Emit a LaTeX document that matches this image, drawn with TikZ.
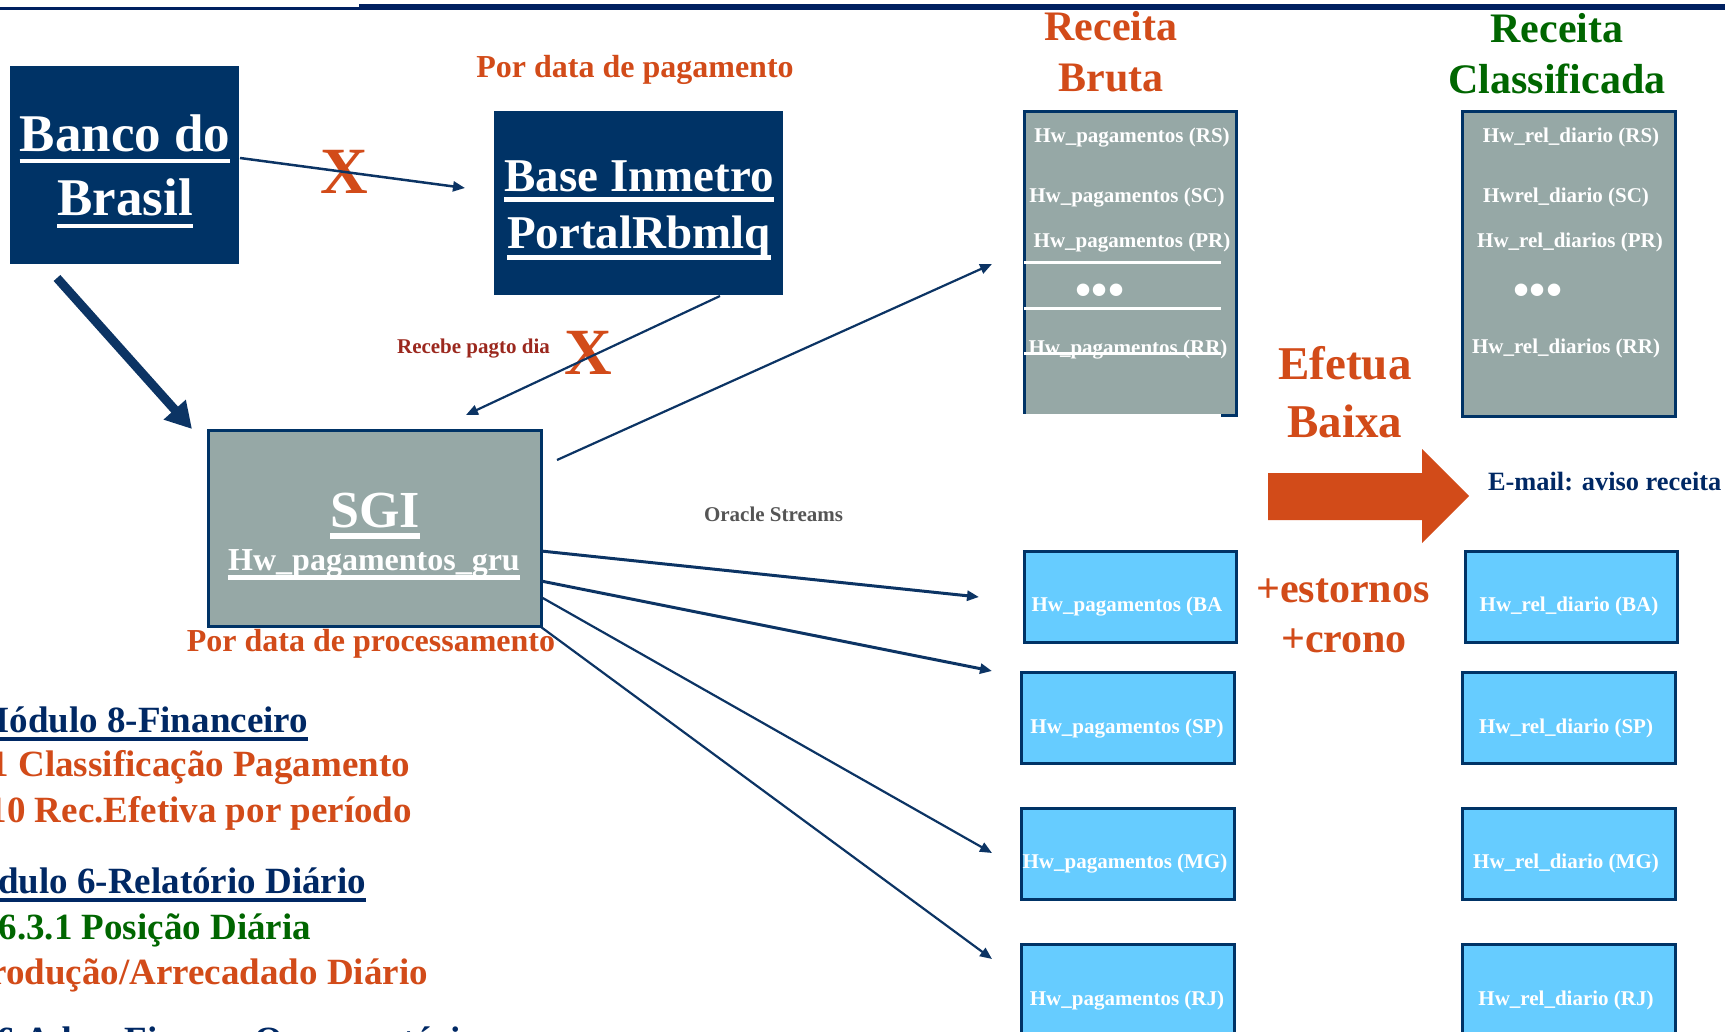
\documentclass[tikz,border=0pt]{standalone}
\usepackage{fontspec}
\setmainfont{Liberation Serif}
\usetikzlibrary{arrows.meta}
\definecolor{navyfill}{RGB}{0,51,102}
\definecolor{navyline}{RGB}{12,52,100}
\definecolor{topnavy}{RGB}{0,32,96}
\definecolor{orng}{RGB}{210,75,25}
\definecolor{grn}{RGB}{0,102,0}
\definecolor{grybox}{RGB}{150,168,166}
\definecolor{ltblue}{RGB}{102,204,255}
\definecolor{dkred}{RGB}{155,40,30}
\definecolor{grytxt}{RGB}{85,85,85}
\definecolor{navytxt}{RGB}{0,40,100}
\newcommand\myul[3]{\leavevmode\setbox0=\hbox{#1}\rlap{\rule[-#2]{\wd0}{#3}}\box0}
\newcommand\fsz[1]{\fontsize{#1}{#1}\selectfont}
\begin{document}
\begin{tikzpicture}[x=1pt,y=-1pt,
  every node/.style={inner sep=0pt,outer sep=0pt},
  darkbox/.style={draw=none,fill=navyfill},
  graybox/.style={draw=navyfill,line width=3pt,fill=grybox},
  bluebox/.style={draw=navyfill,line width=3pt,fill=ltblue},
  cell/.style={text=white,anchor=base,font=\bfseries\fsz{21}},
  dots/.style={text=white,anchor=center,font=\bfseries\fsz{46}},
  bigwhite/.style={text=white,anchor=base},
  conn/.style={draw=navyline,line width=2.2pt,-{Triangle[length=12pt,width=10pt]}},
  connb/.style={conn,line width=3pt},
  thickconn/.style={draw=navyline,line width=9pt,-{Triangle[length=26pt,width=28pt]}},
  lefttxt/.style={anchor=base east,font=\bfseries\fsz{37}},
  head/.style={anchor=base,font=\bfseries\fsz{42}},
  orngtxt/.style={text=orng,anchor=base,font=\bfseries\fsz{32}}
]
\useasboundingbox (0,0) rectangle (1725,1032);
% top rules
\draw[topnavy,line width=3pt] (0,8.2) -- (359,8.2);
\draw[topnavy,line width=5.7pt] (359,6.8) -- (1725,6.8);

% Banco do Brasil
\node[darkbox,minimum width=229pt,minimum height=198pt] (banco) at (124.5,165) {};
\node[bigwhite,font=\bfseries\fsz{53}] (banco1) at (125,152) {\myul{Banco do}{11.25pt}{4.5pt}};
\node[bigwhite,font=\bfseries\fsz{53}] (banco2) at (125,216) {\myul{Brasil}{12.25pt}{4.5pt}};

% Base Inmetro
\node[darkbox,minimum width=289pt,minimum height=184pt] (base) at (638.5,203) {};
\node[bigwhite,font=\bfseries\fsz{47}] (base1) at (639,192) {\myul{Base Inmetro}{9.8pt}{5pt}};
\node[bigwhite,font=\bfseries\fsz{47}] (base2) at (639,249) {\myul{PortalRbmlq}{11pt}{5pt}};

\node[orngtxt] (pordata) at (635,78) {Por data de pagamento};

% SGI
\node[graybox,minimum width=333pt,minimum height=196pt] (sgi) at (374.5,528) {};
\node[bigwhite,font=\bfseries\fsz{52}] (sgi1) at (375,527) {\myul{SGI}{11.75pt}{5.5pt}};
\node[bigwhite,font=\bfseries\fsz{32}] (sgi2) at (374,570) {\myul{Hw\_pagamentos\_gru}{9.65pt}{4.5pt}};
\node[orngtxt] (porproc) at (371,651) {Por data de processamento};

% X marks
\node[text=orng,font=\bfseries\fsz{66},anchor=center] (x1) at (344,172) {X};
\node[text=orng,font=\bfseries\fsz{66},anchor=center] (x2) at (588,353) {X};
\node[text=dkred,anchor=base,font=\bfseries\fsz{21}] (recebe) at (473.5,354) {Recebe pagto dia};

% connectors top-left
\coordinate (bancoE) at (240,158);
\coordinate (baseW) at (465,188);
\draw[conn,line width=2.5pt] (bancoE) -- (baseW);
\coordinate (bancoS) at (57,278);
\coordinate (sgiNW) at (192,429);
\draw[thickconn] (bancoS) -- (sgiNW);
\coordinate (baseS) at (720,296);
\coordinate (sgiN) at (466,415);
\draw[conn] (baseS) -- (sgiN);

% Receita Bruta
\node[text=orng,head] (rb1) at (1111,41) {Receita};
\node[text=orng,head] (rb2) at (1111,92) {Bruta};
\node[graybox,minimum width=212pt,minimum height=303pt] (bruta) at (1130,263.5) {};
\draw[white,line width=3pt] (1023,415) -- (1221,415);
\node[cell] (b1) at (1132,143) {Hw\_pagamentos (RS)};
\node[cell] (b2) at (1127,203) {Hw\_pagamentos (SC)};
\node[cell] (b3) at (1132,248) {Hw\_pagamentos (PR)};
\draw[white,line width=3pt] (1024,263) -- (1221,263);
\node[dots] (b4) at (1100,295) {•••};
\draw[white,line width=3pt] (1024,309) -- (1221,309);
\node[cell] (b5) at (1128,355) {Hw\_pagamentos (RR)};
\draw[white,line width=3pt] (1024,354) -- (1221,354);

% Receita Classificada
\node[text=grn,head] (rc1) at (1557,43) {Receita};
\node[text=grn,head] (rc2) at (1557,94) {Classificada};
\node[graybox,minimum width=213pt,minimum height=304pt] (classif) at (1568.5,264) {};
\node[cell] (c1) at (1571,143) {Hw\_rel\_diario (RS)};
\node[cell] (c2) at (1566,203) {Hwrel\_diario (SC)};
\node[cell] (c3) at (1570,248) {Hw\_rel\_diarios (PR)};
\node[dots] (c4) at (1538,295) {•••};
\node[cell] (c5) at (1566,354) {Hw\_rel\_diarios (RR)};

% Efetua Baixa + arrow
\node[text=orng,anchor=base,font=\bfseries\fsz{47}] (ef1) at (1345,380) {Efetua};
\node[text=orng,anchor=base,font=\bfseries\fsz{47}] (ef2) at (1345,437) {Baixa};
\fill[orng] (1268,473) -- (1422,473) -- (1422,449) -- (1469,496) -- (1422,543) -- (1422,520) -- (1268,520) -- cycle;
\node[text=navytxt,anchor=base west,font=\bfseries\fsz{26.4}] (email) at (1488,490) {E-mail: aviso receita};
\node[text=orng,head] (est) at (1343,602) {+estornos};
\node[text=orng,head] (cro) at (1344,652) {+crono};

% blue boxes column 1
\node[bluebox,minimum width=212pt,minimum height=91pt] (ba1) at (1130,596.5) {};
\node[bluebox,minimum width=213pt,minimum height=91pt] (sp1) at (1127.5,717.5) {};
\node[bluebox,minimum width=213pt,minimum height=91pt] (mg1) at (1127.5,853.5) {};
\node[bluebox,minimum width=213pt,minimum height=116pt] (rj1) at (1127.5,1002) {};
\node[cell] (ba1t) at (1127,611) {Hw\_pagamentos (BA};
\node[cell] (sp1t) at (1127,733) {Hw\_pagamentos (SP)};
\node[cell] (mg1t) at (1125,868) {Hw\_pagamentos (MG)};
\node[cell] (rj1t) at (1127,1005) {Hw\_pagamentos (RJ)};

% blue boxes column 2
\node[bluebox,minimum width=212pt,minimum height=91pt] (ba2) at (1571,596.5) {};
\node[bluebox,minimum width=213pt,minimum height=91pt] (sp2) at (1568.5,718) {};
\node[bluebox,minimum width=213pt,minimum height=91pt] (mg2) at (1568.5,854) {};
\node[bluebox,minimum width=213pt,minimum height=116pt] (rj2) at (1568.5,1002) {};
\node[cell] (ba2t) at (1569,611) {Hw\_rel\_diario (BA)};
\node[cell] (sp2t) at (1566,733) {Hw\_rel\_diario (SP)};
\node[cell] (mg2t) at (1566,868) {Hw\_rel\_diario (MG)};
\node[cell] (rj2t) at (1566,1005) {Hw\_rel\_diario (RJ)};

% SGI connectors
\node[text=grytxt,anchor=base,font=\bfseries\fsz{21}] (oracle) at (773.5,521) {Oracle Streams};
\coordinate (s0) at (557,460);
\coordinate (e0) at (992,264);
\draw[conn] (s0) -- (e0);
\coordinate (s1) at (541,551);
\coordinate (e1) at (979,597);
\draw[connb] (s1) -- (e1);
\coordinate (s2) at (541,581);
\coordinate (e2) at (992,671);
\draw[connb] (s2) -- (e2);
\coordinate (s3) at (541,597);
\coordinate (e3) at (992,853);
\draw[conn] (s3) -- (e3);
\coordinate (s4) at (541,627);
\coordinate (e4) at (992,959);
\draw[conn] (s4) -- (e4);

% left text block
\node[lefttxt,text=navytxt] (m8) at (308,732) {\myul{Módulo 8-Financeiro}{8.6pt}{4pt}};
\node[lefttxt,text=orng] (m81) at (410,776) {1 Classificação Pagamento};
\node[lefttxt,text=orng] (m810) at (412,822) {10 Rec.Efetiva por período};
\node[lefttxt,text=navytxt] (m6) at (366,893) {\myul{Módulo 6-Relatório Diário}{9pt}{4pt}};
\node[lefttxt,text=grn] (m631) at (311,939) {6.3.1 Posição Diária};
\node[lefttxt,text=orng] (mprod) at (428,984) {Produção/Arrecadado Diário};
\node[anchor=base west,font=\bfseries\fsz{37},text=navytxt] (madm) at (-3,1052) {6 Adm. Financ. Orçamentária};
\end{tikzpicture}
\end{document}
